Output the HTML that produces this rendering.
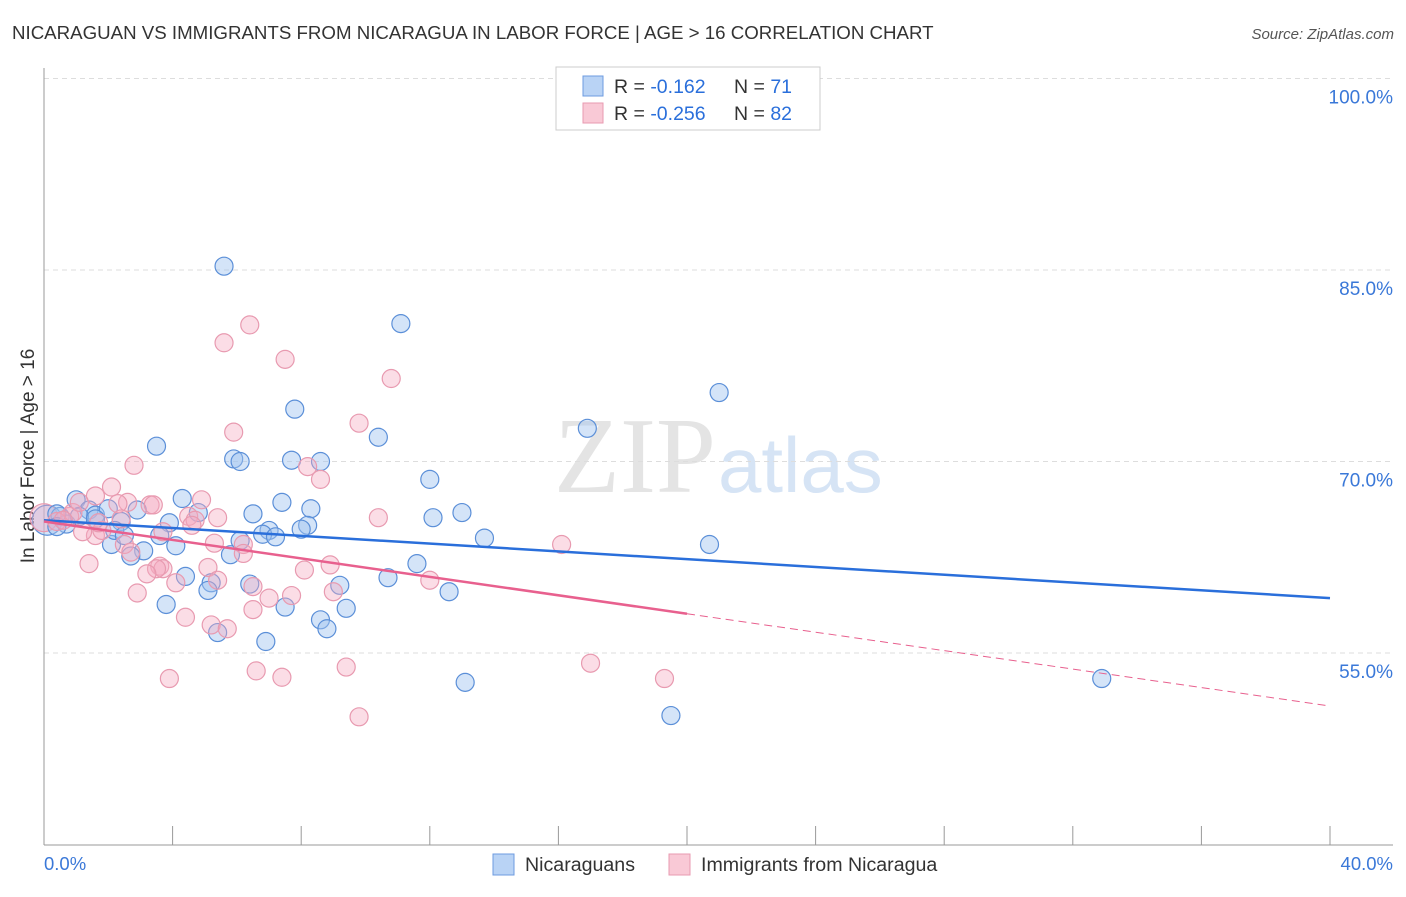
<!DOCTYPE html>
<html><head><meta charset="utf-8"><style>
body{margin:0;background:#fff;font-family:"Liberation Sans",sans-serif}
</style></head><body>
<svg id="c" width="1406" height="892" xmlns="http://www.w3.org/2000/svg" style="font-family:'Liberation Sans',sans-serif">
<text x="12" y="39" font-size="18.7" fill="#333">NICARAGUAN VS IMMIGRANTS FROM NICARAGUA IN LABOR FORCE | AGE &gt; 16 CORRELATION CHART</text>
<text x="1394" y="39" font-size="15" fill="#555" font-style="italic" text-anchor="end">Source: ZipAtlas.com</text>
<text x="716" y="492" font-size="108" fill="#e4e4e4" font-family="Liberation Serif,serif" text-anchor="end">ZIP</text>
<text x="718" y="492" font-size="78" fill="#d6e4f5">atlas</text>
<text transform="translate(34,456) rotate(-90)" font-size="19" fill="#333" text-anchor="middle">In Labor Force | Age &gt; 16</text>
<g id="grid"></g><g id="pts"></g><g id="lines"></g>
<g>
<rect x="556" y="67" width="264" height="63" fill="#fff" stroke="#ccc"/>
<rect x="583" y="76" width="20" height="20" fill="#b9d3f5" stroke="#6d9be0"/>
<rect x="583" y="103" width="20" height="20" fill="#f9c9d6" stroke="#e89ab0"/>
<text x="614" y="93" font-size="19.5" fill="#333">R = <tspan fill="#2a6fdb">-0.162</tspan><tspan x="734">N = </tspan><tspan fill="#2a6fdb">71</tspan></text>
<text x="614" y="120" font-size="19.5" fill="#333">R = <tspan fill="#2a6fdb">-0.256</tspan><tspan x="734">N = </tspan><tspan fill="#2a6fdb">82</tspan></text>
</g>
<g>
<rect x="493" y="854" width="21" height="21" fill="#b9d3f5" stroke="#6d9be0"/>
<text x="525" y="871" font-size="19.6" fill="#333">Nicaraguans</text>
<rect x="669" y="854" width="21" height="21" fill="#f9c9d6" stroke="#e89ab0"/>
<text x="701" y="871" font-size="19.6" fill="#333">Immigrants from Nicaragua</text>
</g>
</svg>
<script>
const yTicks=[100,85,70,55];
const xTickLabels=["0.0%","40.0%"];
const blueX=[5.6,11.1,21.0,7.8,3.5,10.4,16.9,5.9,6.1,7.7,8.6,12.0,4.3,7.4,8.3,13.0,12.1,6.5,4.8,3.9,8.2,8.0,7.0,6.8,7.2,3.6,13.7,20.7,4.1,6.1,2.1,3.1,2.7,5.8,11.6,4.4,10.7,9.2,5.2,5.1,6.4,12.6,3.8,7.5,9.4,8.6,8.8,5.4,6.9,13.1,19.5,32.9,0.5,1.0,1.4,1.6,0.7,2.4,2.0,0.4,1.1,2.9,1.6,2.2,2.5,0.4];
const blueY=[85.3,80.8,75.4,74.1,71.2,71.9,72.6,70.2,70.0,70.1,70.0,68.6,67.1,66.8,66.3,66.0,65.6,65.9,66.0,65.2,65.0,64.7,64.6,64.3,64.1,64.2,64.0,63.5,63.4,63.8,63.5,63.0,62.6,62.7,62.0,61.0,60.9,60.3,60.5,59.9,60.4,59.8,58.8,58.6,58.5,57.6,56.9,56.6,55.9,52.7,50.1,53.0,65.7,67.0,66.2,65.8,65.1,65.3,66.3,65.9,65.7,66.2,65.5,64.6,64.2,64.9];
const pinkX=[6.4,5.6,7.5,10.8,9.8,5.9,2.8,8.2,8.6,2.1,1.6,4.9,3.3,3.4,2.6,2.3,10.4,4.5,4.7,4.6,3.7,5.4,16.1,5.3,6.2,1.6,1.8,2.5,6.2,1.4,2.7,8.9,3.6,3.7,3.5,5.1,8.1,3.2,12.0,4.1,5.4,6.5,9.0,2.9,7.7,7.0,6.5,4.4,5.2,5.7,17.0,9.4,6.6,7.4,3.9,19.3,9.8,2.4,1.2,0.8,0.4,0.9,0.6,1.1,1.7];
const pinkY=[80.7,79.3,78.0,76.5,73.0,72.3,69.7,69.6,68.6,68.0,67.3,67.0,66.6,66.6,66.8,66.7,65.6,65.7,65.4,65.0,64.5,65.6,63.5,63.6,63.5,64.2,64.6,63.5,62.8,62.0,62.9,61.9,61.8,61.6,61.6,61.7,61.5,61.2,60.7,60.5,60.7,60.2,59.8,59.7,59.5,59.3,58.4,57.8,57.2,56.9,54.2,53.9,53.6,53.1,53.0,53.0,50.0,65.5,64.5,65.7,65.3,66.0,65.4,66.8,65.2];
const bigBlue=[0.1,65.4], bigPink=[0.0,65.6];
const blueTrend=[65.4,59.3];
const pinkTrend=[65.3,50.85];
const pinkSolidEnd=20;
const NS="http://www.w3.org/2000/svg";
const X=v=>44+v/40*1286, Y=v=>78.5+(100-v)/15*191.5;
function mk(t,a,p){const e=document.createElementNS(NS,t);for(const k in a)e.setAttribute(k,a[k]);p.appendChild(e);return e;}
const g=document.getElementById('grid');
yTicks.forEach(t=>{
 const l=mk('line',{x1:44,x2:1393,y1:Y(t),y2:Y(t),stroke:'#ddd','stroke-dasharray':'5,4'},g);
 
 
 const tx=mk('text',{x:1393,y:Y(t)+25,'font-size':19,fill:'#3a78d8','text-anchor':'end'},g);
 tx.textContent=t.toFixed(1)+'%';
 
 
});
const ax=mk('line',{x1:44,x2:44,y1:68,y2:845,stroke:'#999'},g);


const bx=mk('line',{x1:44,x2:1393,y1:845,y2:845,stroke:'#999'},g);


for(let i=0;i<=10;i++){const t=mk('line',{x1:X(i*4),x2:X(i*4),y1:826,y2:845,stroke:'#999'},g);
 
 }
[[0,'start',44],[1,'end',1393]].forEach(([i,a,x])=>{const t=mk('text',{x:x,y:870,'font-size':18.5,fill:'#3a78d8','text-anchor':a},g);t.textContent=xTickLabels[i];
 
 });
const p=document.getElementById('pts');
function dot(x,y,r,blue){const c=mk('circle',{cx:X(x),cy:Y(y),r:r,fill:blue?'rgba(160,196,240,0.45)':'rgba(245,170,192,0.4)',stroke:blue?'#5b8fd8':'#e89ab0','stroke-width':1.2},p);
 
 }
dot(bigBlue[0],bigBlue[1],15,true);dot(bigPink[0],bigPink[1],14,false);
blueX.forEach((x,i)=>dot(x,blueY[i],9,true));
pinkX.forEach((x,i)=>dot(x,pinkY[i],9,false));
const L=document.getElementById('lines');
const b=mk('line',{x1:X(0),y1:Y(blueTrend[0]),x2:X(40),y2:Y(blueTrend[1]),stroke:'#2a6fdb','stroke-width':2.5},L);


const pm=pinkTrend[0]+(pinkTrend[1]-pinkTrend[0])*pinkSolidEnd/40;
const ps=mk('line',{x1:X(0),y1:Y(pinkTrend[0]),x2:X(pinkSolidEnd),y2:Y(pm),stroke:'#e8608e','stroke-width':2.5},L);


const pd=mk('line',{x1:X(pinkSolidEnd),y1:Y(pm),x2:X(40),y2:Y(pinkTrend[1]),stroke:'#e8608e','stroke-width':1,'stroke-dasharray':'8,5'},L);


</script>
</body></html>
